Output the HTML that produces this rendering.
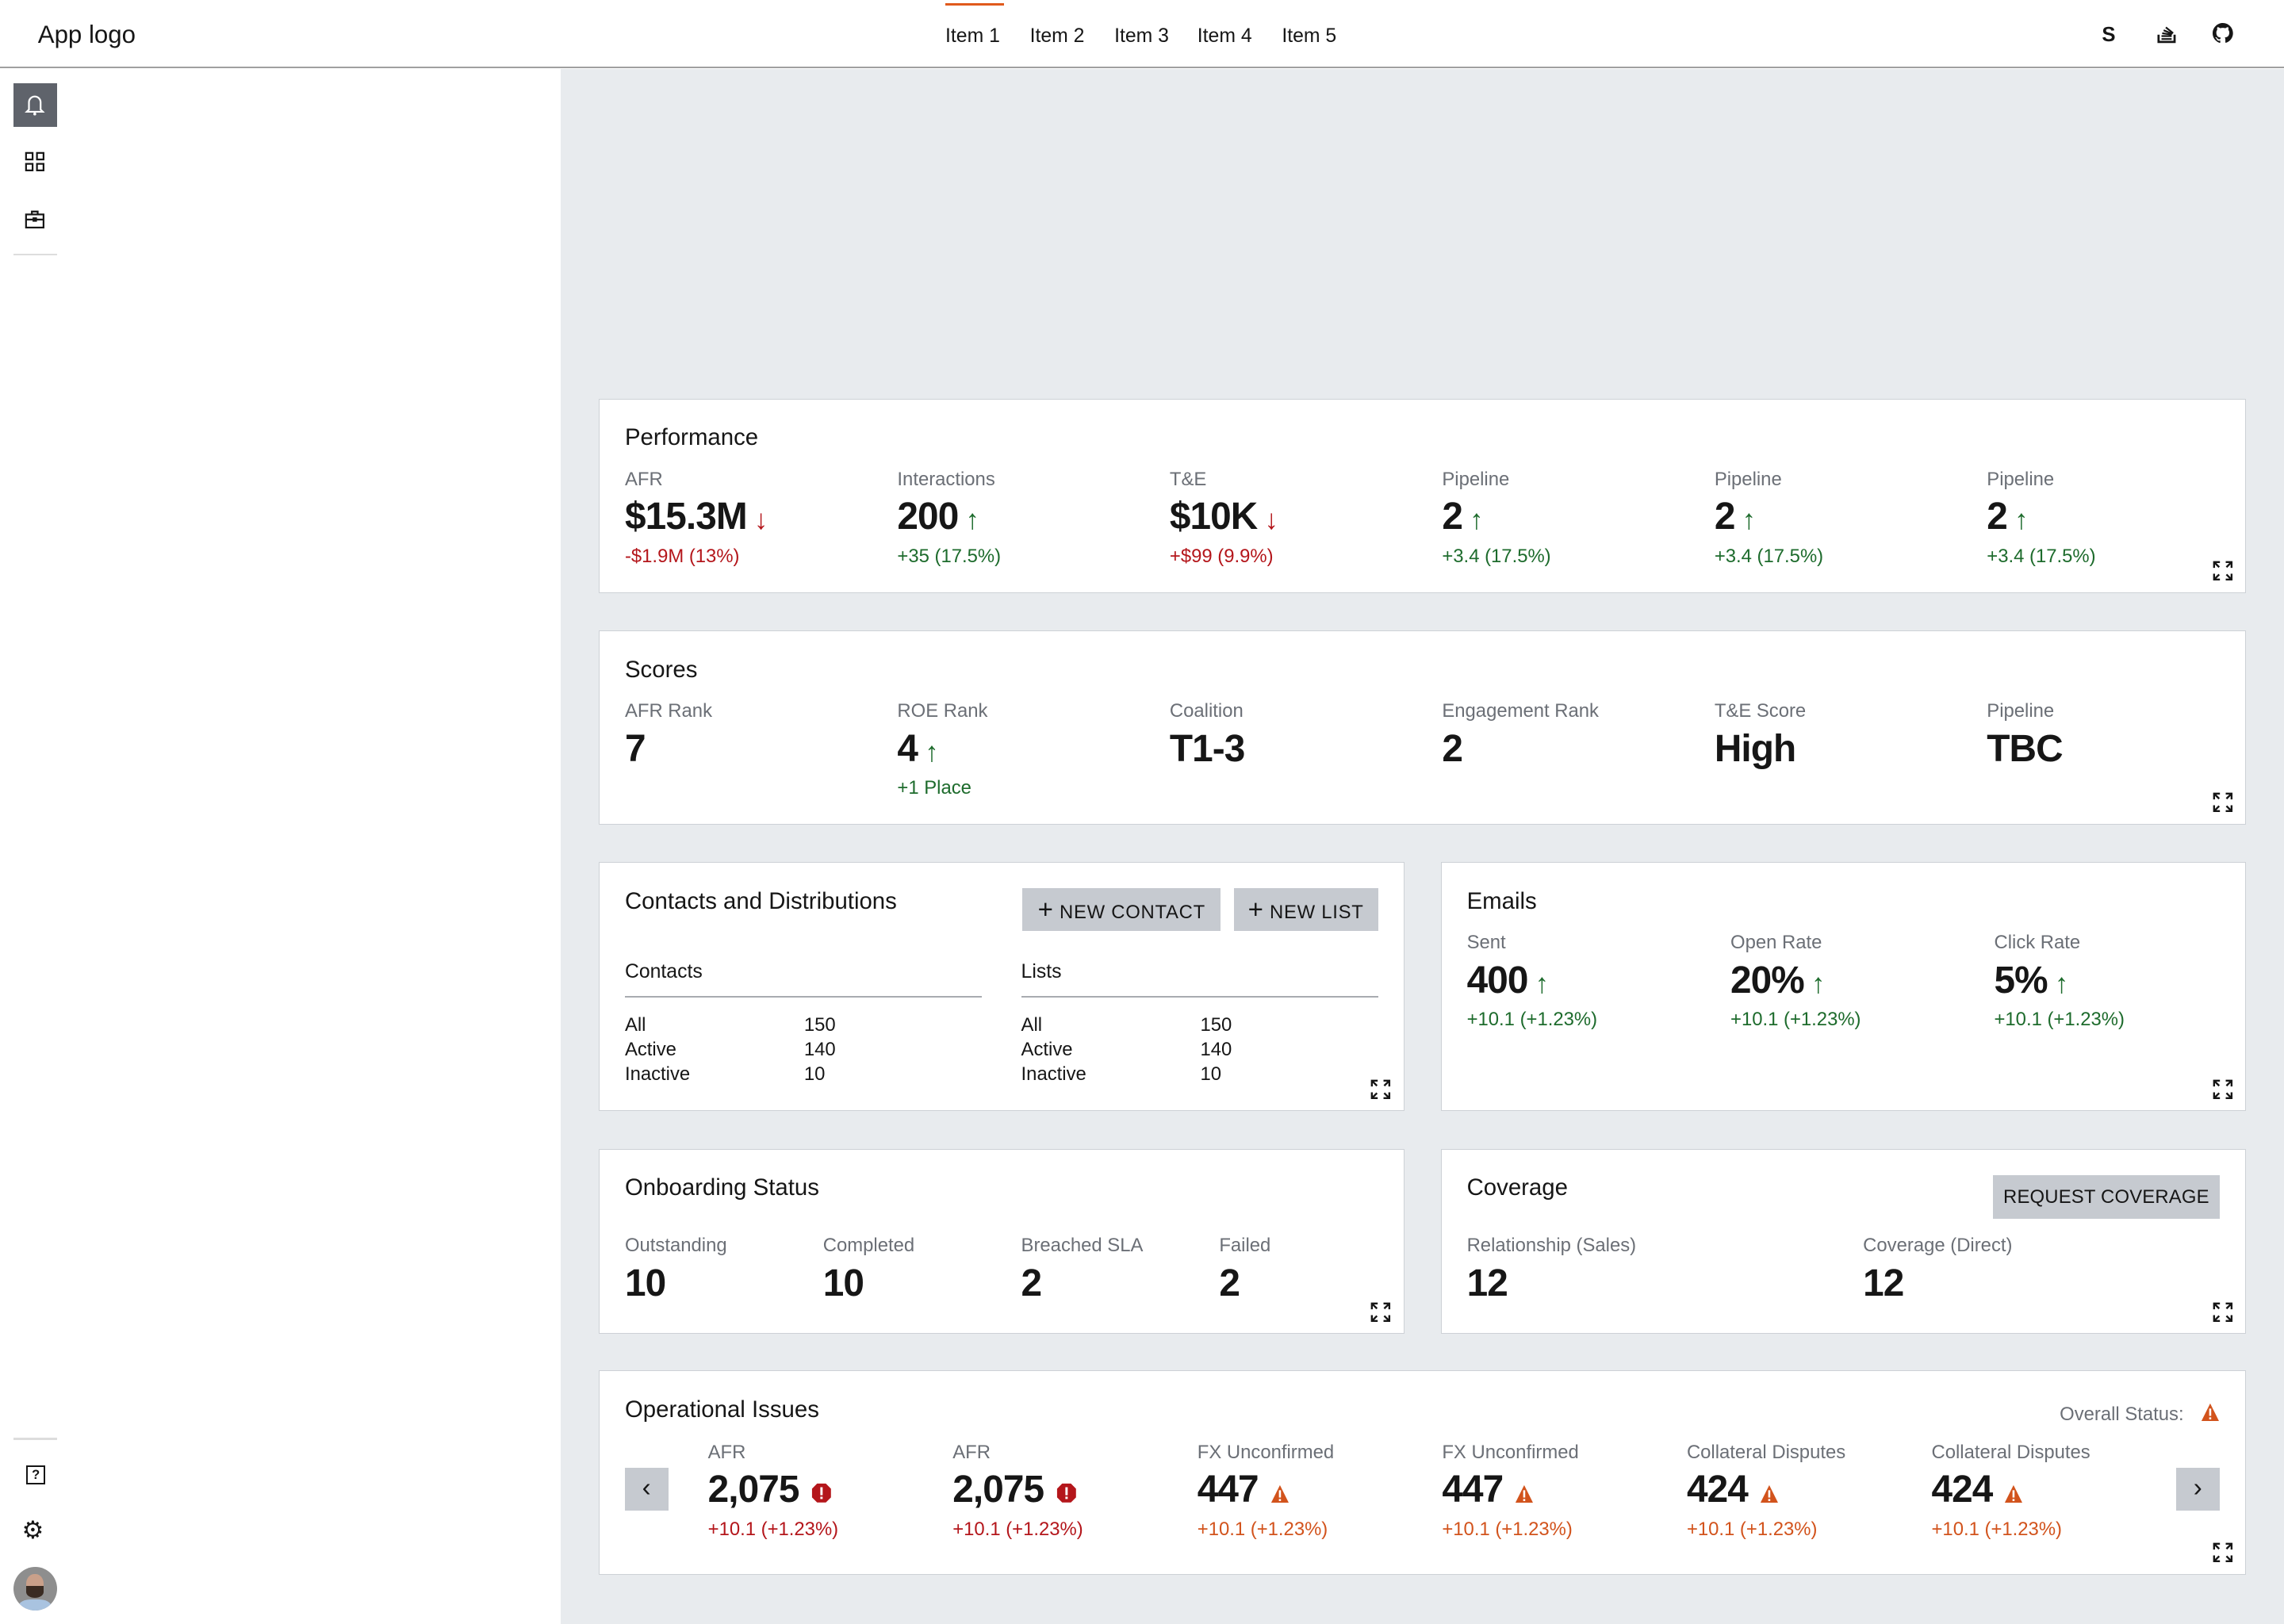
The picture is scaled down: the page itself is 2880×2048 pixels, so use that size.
<!DOCTYPE html>
<html><head><meta charset="utf-8">
<style>
html,body{margin:0;padding:0;background:#fff;overflow:hidden}
#w{position:relative;width:1568px;height:1115px;zoom:1.836735;font-family:"Liberation Sans",sans-serif;color:#161616;background:#fff;overflow:hidden}
.a{position:absolute;white-space:nowrap}
.card{position:absolute;background:#fff;border:1px solid #cdd1d6;box-sizing:border-box}
.tt{font-size:16px;line-height:20px}
.lb{font-size:13px;color:#6b6f76;line-height:18px}
.v{font-size:26px;font-weight:bold;line-height:30px;letter-spacing:-0.5px}
.d{font-size:13px;line-height:18px}
.r{color:#b4161b}.g{color:#1d6b2c}.o{color:#d2531c}
.ar{font-size:19px;font-weight:normal;margin-left:5px}
.btn{position:absolute;background:#c6cad0;font-size:13px;letter-spacing:.4px;text-align:center;color:#161616}
.ex{position:absolute;width:14px;height:14px}
.tx{font-size:13px;line-height:17px}
</style></head><body><div id="w">
<div class="a" style="left:0;top:0;width:1568px;height:46px;border-bottom:1.5px solid #a0a0a0;background:#fff"></div>
<div class="a" style="left:26px;top:13px;font-size:17px;line-height:22px">App logo</div>
<div class="a" style="left:649px;top:2px;width:40px;height:2px;background:#e05a1c"></div>
<div class="a" style="left:649px;top:16px;font-size:13.5px;line-height:18px">Item 1</div>
<div class="a" style="left:707px;top:16px;font-size:13.5px;line-height:18px">Item 2</div>
<div class="a" style="left:765px;top:16px;font-size:13.5px;line-height:18px">Item 3</div>
<div class="a" style="left:822px;top:16px;font-size:13.5px;line-height:18px">Item 4</div>
<div class="a" style="left:880px;top:16px;font-size:13.5px;line-height:18px">Item 5</div>
<div class="a" style="left:1443px;top:15px;font-size:14px;font-weight:bold;line-height:18px">S</div>
<svg class="a" style="left:1481px;top:16px" width="13" height="14" viewBox="0 0 13 14"><path d="M1 8v5h11V8" fill="none" stroke="#161616" stroke-width="1.5"/><path d="M3 11h7M3 9h7M3.5 7l6.5 1M4.5 5l6 2.5M6 3l5 4" stroke="#161616" stroke-width="1.2"/></svg>
<svg class="a" style="left:1519px;top:16px" width="14" height="14" viewBox="0 0 16 16"><path fill="#161616" d="M8 0C3.6 0 0 3.6 0 8c0 3.5 2.3 6.5 5.5 7.6.4.1.5-.2.5-.4v-1.4c-2.2.5-2.7-1-2.7-1-.4-.9-.9-1.2-.9-1.2-.7-.5.1-.5.1-.5.8.1 1.2.8 1.2.8.7 1.2 1.9.9 2.3.7.1-.5.3-.9.5-1.1-1.8-.2-3.6-.9-3.6-4 0-.9.3-1.6.8-2.1-.1-.2-.4-1 .1-2.100 0 0 .7-.2 2.2.8.6-.2 1.3-.3 2-.3s1.4.1 2 .3c1.5-1 2.2-.8 2.2-.8.4 1.1.2 1.9.1 2.1.5.6.8 1.3.8 2.1 0 3.1-1.9 3.7-3.6 3.9.3.3.5.8.5 1.5v2.2c0 .2.1.5.6.4C13.7 14.5 16 11.5 16 8c0-4.4-3.6-8-8-8z"/></svg>
<div class="a" style="left:9px;top:57px;width:30px;height:30px;background:#5f636b"></div>
<svg class="a" style="left:17px;top:64px" width="14" height="16" viewBox="0 0 14 16"><path d="M3 11V6a4 4 0 0 1 8 0v5l1.5 1.5h-11z" fill="none" stroke="#fff" stroke-width="1.2"/><circle cx="7" cy="14" r="1" fill="#fff"/></svg>
<svg class="a" style="left:17px;top:104px" width="14" height="14"><rect x="1" y="1" width="4.5" height="4.5" fill="none" stroke="#161616" stroke-width="1.2"/><rect x="8.5" y="1" width="4.5" height="4.5" fill="none" stroke="#161616" stroke-width="1.2"/><rect x="1" y="8.5" width="4.5" height="4.5" fill="none" stroke="#161616" stroke-width="1.2"/><rect x="8.5" y="8.5" width="4.5" height="4.5" fill="none" stroke="#161616" stroke-width="1.2"/></svg>
<svg class="a" style="left:17px;top:144px" width="14" height="14"><rect x="1" y="3.5" width="12" height="9" fill="none" stroke="#161616" stroke-width="1.2"/><path d="M5 3.5V1.5h4v2M1 7h12" fill="none" stroke="#161616" stroke-width="1.2"/><rect x="5.5" y="5.5" width="3" height="3" fill="#161616"/></svg>
<div class="a" style="left:9px;top:174px;width:30px;height:1.5px;background:#ddd"></div>
<div class="a" style="left:9px;top:987px;width:30px;height:1.5px;background:#ddd"></div>
<div class="a" style="left:18px;top:1006px;width:11px;height:11px;border:1.3px solid #161616;font-size:9px;font-weight:bold;line-height:11px;text-align:center">?</div>
<div class="a" style="left:15px;top:1041px;font-size:17px;line-height:20px">⚙</div>
<div class="a" style="left:9px;top:1076px;width:30px;height:30px;border-radius:50%;background:#8e8e8e;overflow:hidden"><div style="position:absolute;left:9px;top:5px;width:12px;height:15px;border-radius:45%;background:#c9a08a"></div><div style="position:absolute;left:9px;top:13px;width:12px;height:8px;border-radius:0 0 50% 50%;background:#3a2b22"></div><div style="position:absolute;left:4px;top:22px;width:22px;height:10px;border-radius:40% 40% 0 0;background:#a9c3e0"></div></div>
<div class="a" style="left:385px;top:47.5px;width:1183px;height:1068px;background:#e8ebee"></div>

<div class="card" style="left:411px;top:274px;width:1131px;height:133px"></div>
<div class="a tt" style="left:429px;top:291px">Performance</div>
<div class="a lb" style="left:429px;top:320px">AFR</div>
<div class="a v" style="left:429px;top:340px">$15.3M<span class="ar r">↓</span></div>
<div class="a d r" style="left:429px;top:373px">-$1.9M (13%)</div>
<div class="a lb" style="left:616px;top:320px">Interactions</div>
<div class="a v" style="left:616px;top:340px">200<span class="ar g">↑</span></div>
<div class="a d g" style="left:616px;top:373px">+35 (17.5%)</div>
<div class="a lb" style="left:803px;top:320px">T&amp;E</div>
<div class="a v" style="left:803px;top:340px">$10K<span class="ar r">↓</span></div>
<div class="a d r" style="left:803px;top:373px">+$99 (9.9%)</div>
<div class="a lb" style="left:990px;top:320px">Pipeline</div>
<div class="a v" style="left:990px;top:340px">2<span class="ar g">↑</span></div>
<div class="a d g" style="left:990px;top:373px">+3.4 (17.5%)</div>
<div class="a lb" style="left:1177px;top:320px">Pipeline</div>
<div class="a v" style="left:1177px;top:340px">2<span class="ar g">↑</span></div>
<div class="a d g" style="left:1177px;top:373px">+3.4 (17.5%)</div>
<div class="a lb" style="left:1364px;top:320px">Pipeline</div>
<div class="a v" style="left:1364px;top:340px">2<span class="ar g">↑</span></div>
<div class="a d g" style="left:1364px;top:373px">+3.4 (17.5%)</div>

<div class="card" style="left:411px;top:433px;width:1131px;height:133px"></div>
<div class="a tt" style="left:429px;top:450px">Scores</div>
<div class="a lb" style="left:429px;top:479px">AFR Rank</div>
<div class="a v" style="left:429px;top:499px">7</div>
<div class="a lb" style="left:616px;top:479px">ROE Rank</div>
<div class="a v" style="left:616px;top:499px">4<span class="ar g">↑</span></div>
<div class="a d g" style="left:616px;top:532px">+1 Place</div>
<div class="a lb" style="left:803px;top:479px">Coalition</div>
<div class="a v" style="left:803px;top:499px">T1-3</div>
<div class="a lb" style="left:990px;top:479px">Engagement Rank</div>
<div class="a v" style="left:990px;top:499px">2</div>
<div class="a lb" style="left:1177px;top:479px">T&amp;E Score</div>
<div class="a v" style="left:1177px;top:499px">High</div>
<div class="a lb" style="left:1364px;top:479px">Pipeline</div>
<div class="a v" style="left:1364px;top:499px">TBC</div>

<div class="card" style="left:411px;top:592px;width:553px;height:171px"></div>
<div class="a tt" style="left:429px;top:609px">Contacts and Distributions</div>
<div class="btn" style="left:702px;top:610px;width:136px;height:29px;line-height:30px"><b style="font-size:18px;font-weight:normal">+</b> NEW CONTACT</div>
<div class="btn" style="left:847px;top:610px;width:99px;height:29px;line-height:30px"><b style="font-size:18px;font-weight:normal">+</b> NEW LIST</div>
<div class="a" style="left:429px;top:658px;font-size:13.5px;line-height:18px">Contacts</div>
<div class="a" style="left:701px;top:658px;font-size:13.5px;line-height:18px">Lists</div>
<div class="a" style="left:429px;top:684px;width:245px;height:1px;background:#a8abb0"></div>
<div class="a" style="left:701px;top:684px;width:245px;height:1px;background:#a8abb0"></div>
<div class="a tx" style="left:429px;top:695px">All<br>Active<br>Inactive</div>
<div class="a tx" style="left:552px;top:695px">150<br>140<br>10</div>
<div class="a tx" style="left:701px;top:695px">All<br>Active<br>Inactive</div>
<div class="a tx" style="left:824px;top:695px">150<br>140<br>10</div>

<div class="card" style="left:989px;top:592px;width:553px;height:171px"></div>
<div class="a tt" style="left:1007px;top:609px">Emails</div>
<div class="a lb" style="left:1007px;top:638px">Sent</div>
<div class="a v" style="left:1007px;top:658px">400<span class="ar g">↑</span></div>
<div class="a d g" style="left:1007px;top:691px">+10.1 (+1.23%)</div>
<div class="a lb" style="left:1188px;top:638px">Open Rate</div>
<div class="a v" style="left:1188px;top:658px">20%<span class="ar g">↑</span></div>
<div class="a d g" style="left:1188px;top:691px">+10.1 (+1.23%)</div>
<div class="a lb" style="left:1369px;top:638px">Click Rate</div>
<div class="a v" style="left:1369px;top:658px">5%<span class="ar g">↑</span></div>
<div class="a d g" style="left:1369px;top:691px">+10.1 (+1.23%)</div>

<div class="card" style="left:411px;top:789px;width:553px;height:127px"></div>
<div class="a tt" style="left:429px;top:806px">Onboarding Status</div>
<div class="a lb" style="left:429px;top:846px">Outstanding</div>
<div class="a v" style="left:429px;top:866px">10</div>
<div class="a lb" style="left:565px;top:846px">Completed</div>
<div class="a v" style="left:565px;top:866px">10</div>
<div class="a lb" style="left:701px;top:846px">Breached SLA</div>
<div class="a v" style="left:701px;top:866px">2</div>
<div class="a lb" style="left:837px;top:846px">Failed</div>
<div class="a v" style="left:837px;top:866px">2</div>

<div class="card" style="left:989px;top:789px;width:553px;height:127px"></div>
<div class="a tt" style="left:1007px;top:806px">Coverage</div>
<div class="btn" style="left:1368px;top:807px;width:156px;height:30px;line-height:31px;letter-spacing:0.1px">REQUEST COVERAGE</div>
<div class="a lb" style="left:1007px;top:846px">Relationship (Sales)</div>
<div class="a v" style="left:1007px;top:866px">12</div>
<div class="a lb" style="left:1279px;top:846px">Coverage (Direct)</div>
<div class="a v" style="left:1279px;top:866px">12</div>

<div class="card" style="left:411px;top:941px;width:1131px;height:140px"></div>
<div class="a tt" style="left:429px;top:958px">Operational Issues</div>
<div class="a lb" style="left:1414px;top:962px">Overall Status:</div>
<svg class="a" style="left:1511px;top:963px" width="13" height="13" viewBox="0 0 13 13"><path d="M6.5 0.5L12.5 12.5H0.5z" fill="#d2531c"/><rect x="5.8" y="4" width="1.4" height="5" fill="#fff"/><rect x="5.8" y="10" width="1.4" height="1.4" fill="#fff"/></svg>
<div class="btn" style="left:429px;top:1008px;width:30px;height:29px;font-size:18px;line-height:28px">‹</div>
<div class="btn" style="left:1494px;top:1008px;width:30px;height:29px;font-size:18px;line-height:28px">›</div>

<div class="a lb" style="left:486px;top:988px">AFR</div>
<div class="a v" style="left:486px;top:1008px">2,075</div>
<div class="a d r" style="left:486px;top:1041px">+10.1 (+1.23%)</div>
<div class="a lb" style="left:654px;top:988px">AFR</div>
<div class="a v" style="left:654px;top:1008px">2,075</div>
<div class="a d r" style="left:654px;top:1041px">+10.1 (+1.23%)</div>
<div class="a lb" style="left:822px;top:988px">FX Unconfirmed</div>
<div class="a v" style="left:822px;top:1008px">447</div>
<div class="a d o" style="left:822px;top:1041px">+10.1 (+1.23%)</div>
<div class="a lb" style="left:990px;top:988px">FX Unconfirmed</div>
<div class="a v" style="left:990px;top:1008px">447</div>
<div class="a d o" style="left:990px;top:1041px">+10.1 (+1.23%)</div>
<div class="a lb" style="left:1158px;top:988px">Collateral Disputes</div>
<div class="a v" style="left:1158px;top:1008px">424</div>
<div class="a d o" style="left:1158px;top:1041px">+10.1 (+1.23%)</div>
<div class="a lb" style="left:1326px;top:988px">Collateral Disputes</div>
<div class="a v" style="left:1326px;top:1008px">424</div>
<div class="a d o" style="left:1326px;top:1041px">+10.1 (+1.23%)</div>
<svg class="a" style="left:557px;top:1018px" width="14" height="14" viewBox="0 0 14 14"><path d="M4 0.5h6L13.5 4v6L10 13.5H4L0.5 10V4z" fill="#b4161b"/><rect x="6.2" y="3" width="1.6" height="5.5" fill="#fff"/><rect x="6.2" y="9.5" width="1.6" height="1.6" fill="#fff"/></svg>
<svg class="a" style="left:725px;top:1018px" width="14" height="14" viewBox="0 0 14 14"><path d="M4 0.5h6L13.5 4v6L10 13.5H4L0.5 10V4z" fill="#b4161b"/><rect x="6.2" y="3" width="1.6" height="5.5" fill="#fff"/><rect x="6.2" y="9.5" width="1.6" height="1.6" fill="#fff"/></svg>
<svg class="a" style="left:872px;top:1019px" width="13" height="13" viewBox="0 0 13 13"><path d="M6.5 0.5L12.5 12.5H0.5z" fill="#d2531c"/><rect x="5.8" y="4" width="1.4" height="5" fill="#fff"/><rect x="5.8" y="10" width="1.4" height="1.4" fill="#fff"/></svg>
<svg class="a" style="left:1040px;top:1019px" width="13" height="13" viewBox="0 0 13 13"><path d="M6.5 0.5L12.5 12.5H0.5z" fill="#d2531c"/><rect x="5.8" y="4" width="1.4" height="5" fill="#fff"/><rect x="5.8" y="10" width="1.4" height="1.4" fill="#fff"/></svg>
<svg class="a" style="left:1208px;top:1019px" width="13" height="13" viewBox="0 0 13 13"><path d="M6.5 0.5L12.5 12.5H0.5z" fill="#d2531c"/><rect x="5.8" y="4" width="1.4" height="5" fill="#fff"/><rect x="5.8" y="10" width="1.4" height="1.4" fill="#fff"/></svg>
<svg class="a" style="left:1376px;top:1019px" width="13" height="13" viewBox="0 0 13 13"><path d="M6.5 0.5L12.5 12.5H0.5z" fill="#d2531c"/><rect x="5.8" y="4" width="1.4" height="5" fill="#fff"/><rect x="5.8" y="10" width="1.4" height="1.4" fill="#fff"/></svg>

<svg width="0" height="0" style="position:absolute"><defs><g id="ex"><path d="M1 5V1h4M1 1l3.5 3.5M9 1h4v4M13 1L9.5 4.5M1 9v4h4M1 13l3.5-3.5M13 9v4H9M13 13L9.5 9.5" fill="none" stroke="#161616" stroke-width="1.3"/></g></defs></svg>
<svg class="ex" style="left:1519px;top:385px" viewBox="0 0 14 14"><use href="#ex"/></svg>
<svg class="ex" style="left:1519px;top:544px" viewBox="0 0 14 14"><use href="#ex"/></svg>
<svg class="ex" style="left:941px;top:741px" viewBox="0 0 14 14"><use href="#ex"/></svg>
<svg class="ex" style="left:1519px;top:741px" viewBox="0 0 14 14"><use href="#ex"/></svg>
<svg class="ex" style="left:941px;top:894px" viewBox="0 0 14 14"><use href="#ex"/></svg>
<svg class="ex" style="left:1519px;top:894px" viewBox="0 0 14 14"><use href="#ex"/></svg>
<svg class="ex" style="left:1519px;top:1059px" viewBox="0 0 14 14"><use href="#ex"/></svg>
</div></body></html>
